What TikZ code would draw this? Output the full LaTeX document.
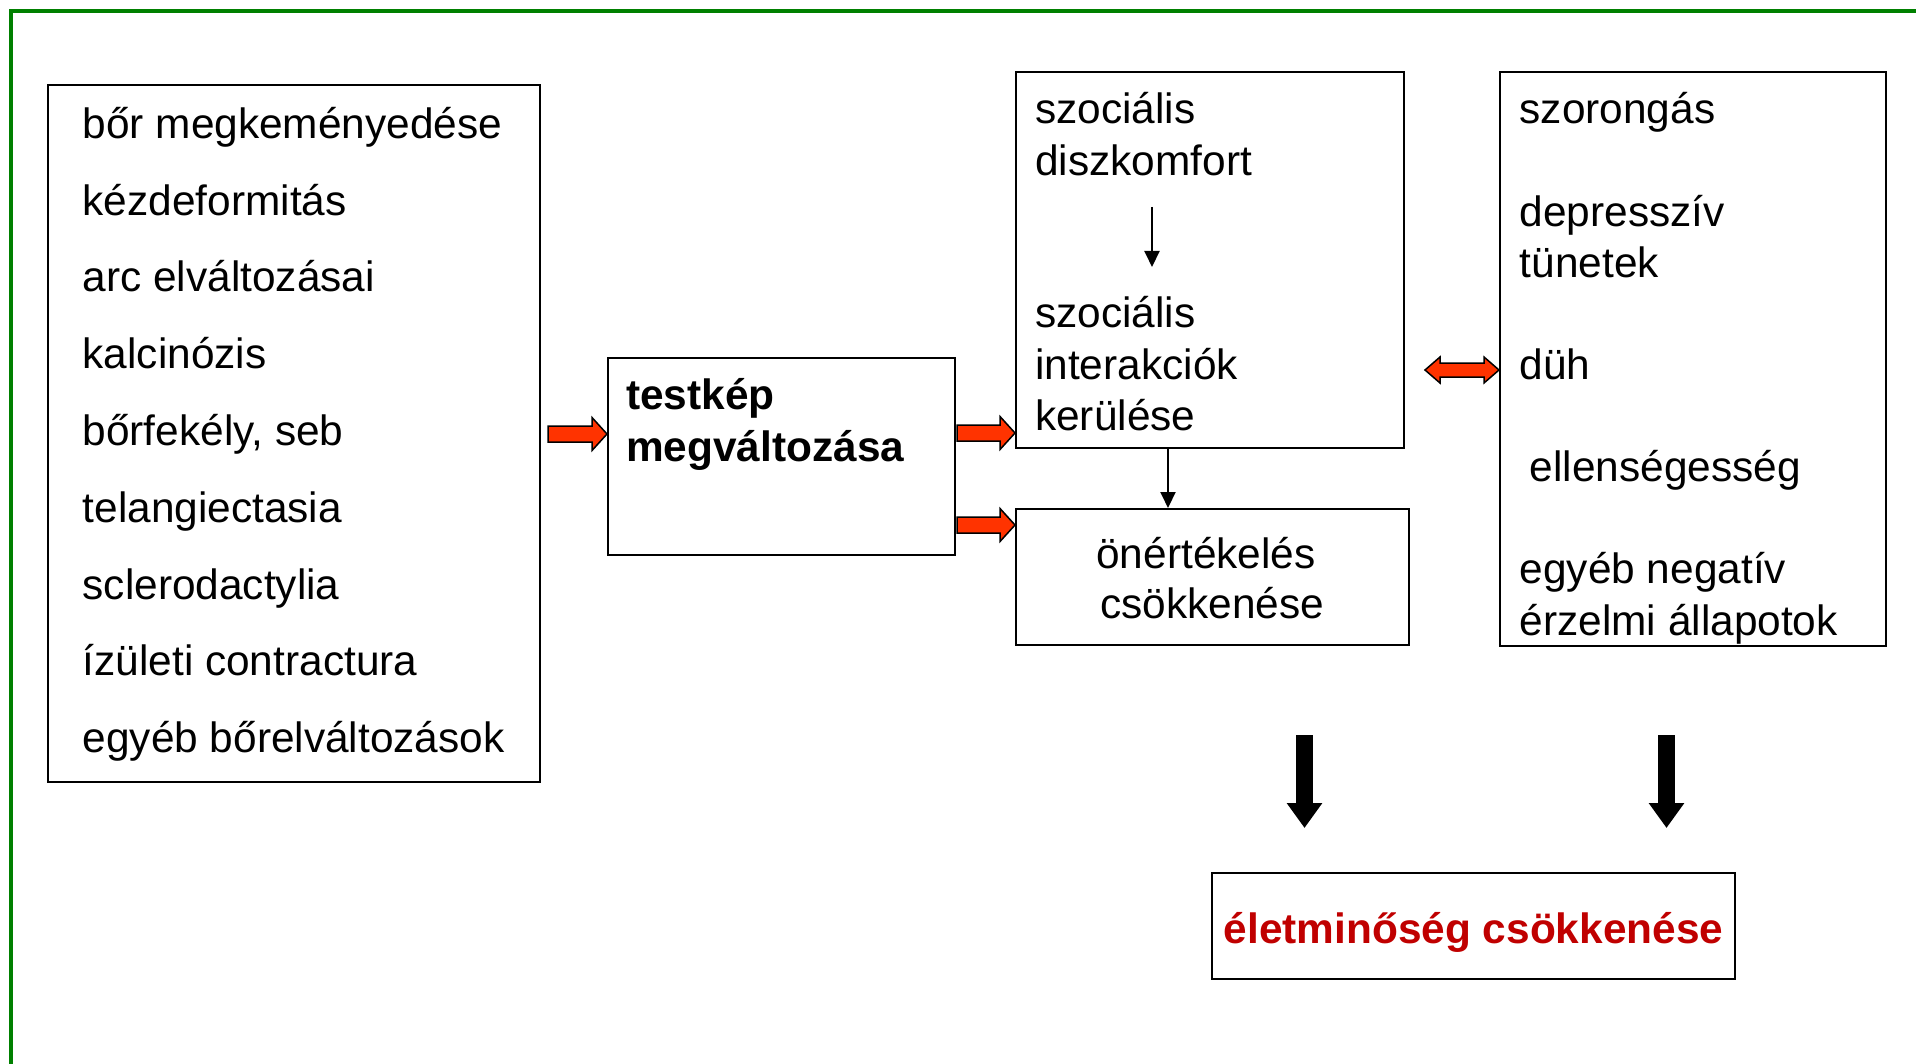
\documentclass[tikz,border=0pt]{standalone}
\usepackage{fontspec}
\setmainfont{Liberation Sans}
\usetikzlibrary{calc,arrows.meta}
\definecolor{frameg}{RGB}{0,128,0}
\definecolor{fatred}{RGB}{255,51,0}
\definecolor{titlered}{RGB}{192,0,0}
\begin{document}
\begin{tikzpicture}[x=1pt,y=-1pt,
 box/.style={draw=black, line width=2pt, inner sep=0pt},
 txt/.style={anchor=base west, inner sep=0pt, font=\fontsize{42.4}{51.5}\selectfont},
 ctxt/.style={anchor=base, inner sep=0pt, font=\fontsize{42.4}{51.5}\selectfont},
 thinarrow/.style={line width=2pt, -{Triangle[length=16pt,width=15pt]}},
 fatdown/.style={line width=17pt, -{Triangle[length=25pt,width=34pt]}},
 redarrow/.style={draw=black, line width=1.5pt, fill=fatred, line join=miter}]
\useasboundingbox (0,0) rectangle (1916,1064);
% green frame
\draw[frameg, line width=4pt] (1930,11) -- (11,11) -- (11,1080);
% boxes
\node[box, minimum width=492pt, minimum height=697pt] (skin) at (294,433.5) {};
\node[box, minimum width=347pt, minimum height=197pt] (body) at (781.5,456.5) {};
\node[box, minimum width=388pt, minimum height=376pt] (socl) at (1210,260) {};
\node[box, minimum width=393pt, minimum height=136pt] (self) at (1212.5,577) {};
\node[box, minimum width=386pt, minimum height=574pt] (emo) at (1693,359) {};
\node[box, minimum width=523pt, minimum height=106pt] (life) at (1473.5,926) {};
% left list
\node[txt] (l1) at (82.5,139) {bőr megkeményedése};
\node[txt] (l2) at (82.5,215.5) {kézdeformitás};
\node[txt] (l3) at (82.5,292) {arc elváltozásai};
\node[txt] (l4) at (82.5,368.7) {kalcinózis};
\node[txt] (l5) at (82.5,445.5) {bőrfekély, seb};
\node[txt] (l6) at (82.5,522.2) {telangiectasia};
\node[txt] (l7) at (82.5,599) {sclerodactylia};
\node[txt] (l8) at (82.5,675.6) {ízületi contractura};
\node[txt] (l9) at (82.5,752.3) {egyéb bőrelváltozások};
% body image
\node[txt, font=\fontsize{42.4}{51.5}\selectfont\bfseries] (b1) at (626,409) {testkép};
\node[txt, font=\fontsize{42.4}{51.5}\selectfont\bfseries] (b2) at (626,461.5) {megváltozása};
% social
\node[txt] (s1) at (1035,124) {szociális};
\node[txt] (s2) at (1035,175.5) {diszkomfort};
\node[txt] (s3) at (1035,327.5) {szociális};
\node[txt] (s4) at (1035,379) {interakciók};
\node[txt] (s5) at (1035,430.5) {kerülése};
% self esteem
\node[ctxt] (e1) at (1206,568) {önértékelés};
\node[ctxt] (e2) at (1212,618.5) {csökkenése};
% emotions
\node[txt] (m1) at (1519.5,123.5) {szorongás};
\node[txt] (m2) at (1519.5,226.5) {depresszív};
\node[txt] (m3) at (1519.5,278) {tünetek};
\node[txt] (m4) at (1519.5,379.5) {düh};
\node[txt] (m5) at (1529.5,481.5) {ellenségesség};
\node[txt] (m6) at (1519.5,583.5) {egyéb negatív};
\node[txt] (m7) at (1519.5,635.5) {érzelmi állapotok};
% quality of life
\node[ctxt, font=\fontsize{42.4}{51.5}\selectfont\bfseries, text=titlered] (q1) at (1473.5,943) {életminőség csökkenése};
% red arrows
\draw[redarrow] let \p1=($(skin.east)+(7,0)$), \p2=(body.west), \p3=(0,434) in
 (\x1,\y3+8pt) -- (\x2-15pt,\y3+8pt) -- (\x2-15pt,\y3+16.5pt) -- (\x2,\y3) -- (\x2-15pt,\y3-16.5pt) -- (\x2-15pt,\y3-8pt) -- (\x1,\y3-8pt) -- cycle;
\draw[redarrow] let \p1=($(body.east)+(1,0)$), \p2=(socl.west), \p3=(0,433) in
 (\x1,\y3+8pt) -- (\x2-15pt,\y3+8pt) -- (\x2-15pt,\y3+16.5pt) -- (\x2,\y3) -- (\x2-15pt,\y3-16.5pt) -- (\x2-15pt,\y3-8pt) -- (\x1,\y3-8pt) -- cycle;
\draw[redarrow] let \p1=($(body.east)+(1,0)$), \p2=(self.west), \p3=(0,525) in
 (\x1,\y3+8pt) -- (\x2-15pt,\y3+8pt) -- (\x2-15pt,\y3+16.5pt) -- (\x2,\y3) -- (\x2-15pt,\y3-16.5pt) -- (\x2-15pt,\y3-8pt) -- (\x1,\y3-8pt) -- cycle;
% double arrow
\draw[redarrow] let \p1=($(socl.east)+(20,0)$), \p2=(emo.west), \p3=(0,370) in
 (\x1,\y3) -- (\x1+15pt,\y3+13pt) -- (\x1+15pt,\y3+7pt) -- (\x2-15pt,\y3+7pt) -- (\x2-15pt,\y3+13pt) -- (\x2,\y3) -- (\x2-15pt,\y3-13pt) -- (\x2-15pt,\y3-7pt) -- (\x1+15pt,\y3-7pt) -- (\x1+15pt,\y3-13pt) -- cycle;
% thin arrows
\coordinate (i1) at (1152,207);
\coordinate (i2) at (1152,267);
\draw[thinarrow] (i1) -- (i2);
\coordinate (cx) at (1168,0);
\draw[thinarrow] (socl.south -| cx) -- (self.north -| cx);
% fat black arrows
\coordinate (d1s) at (1304.5,735);
\coordinate (d1e) at (1304.5,828);
\coordinate (d2s) at (1666.5,735);
\coordinate (d2e) at (1666.5,828);
\draw[fatdown] (d1s) -- (d1e);
\draw[fatdown] (d2s) -- (d2e);
\end{tikzpicture}
\end{document}
